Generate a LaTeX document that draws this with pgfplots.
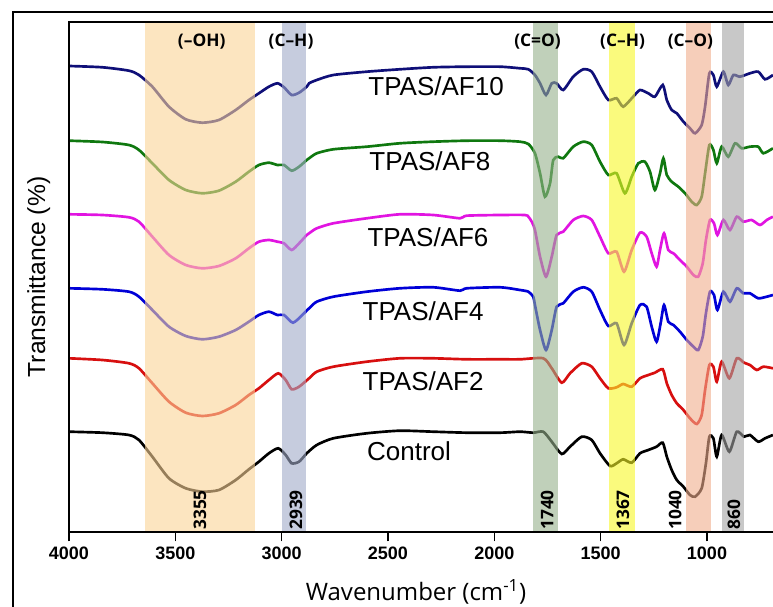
\documentclass[border=0pt]{standalone}
\usepackage{fontspec}
\setmainfont{Liberation Sans}
\newfontfamily\osans{Open Sans}
\usepackage{pgfplots}
\pgfplotsset{compat=1.18}
\definecolor{cNavy}{RGB}{15,15,120}
\definecolor{cGreen}{RGB}{15,120,15}
\definecolor{cMag}{RGB}{225,20,225}
\definecolor{cBlue}{RGB}{0,0,215}
\definecolor{cRed}{RGB}{215,15,15}
\definecolor{bOH}{RGB}{250,211,150}
\definecolor{bCH}{RGB}{160,170,200}
\definecolor{bCO}{RGB}{150,177,140}
\definecolor{bCHb}{RGB}{247,247,38}
\definecolor{bCOb}{RGB}{240,173,140}
\definecolor{bGr}{RGB}{163,163,163}
\begin{document}
\begin{tikzpicture}
\path[use as bounding box] (0,0) rectangle (579.75pt,454.5pt);
\draw[line width=1.5pt] (9.75pt,-20pt) rectangle (620pt,445.5pt);
\begin{axis}[
  at={(51.75pt,55.5pt)}, anchor=south west, scale only axis,
  width=533.25pt, height=382.5pt,
  x dir=reverse, xmin=656.7, xmax=4000, ymin=0, ymax=510,
  xtick={1000,1500,2000,2500,3000,3500,4000}, ytick=\empty,
  xticklabels={1000,1500,2000,2500,3000,3500,4000},
  xtick pos=left, tick align=outside, major tick length=7pt,
  xticklabel style={font=\fontsize{13.5}{15}\selectfont\bfseries, yshift=-1pt},
  axis line style={line width=1pt},
  every tick/.style={black,line width=1pt},
  axis on top, clip=true,
  every axis plot/.append style={line width=2pt, smooth, tension=0.4},
]
\addplot[cNavy] coordinates {(4000,466) (3843,464.7) (3718,461.3) (3671,457) (3608,445.3) (3530,425.3) (3451,412.7) (3373,409.3) (3295,412) (3216,422) (3154,432) (3107,438.7) (3060,445.3) (3020,448.7) (2989,444.7) (2953,437) (2918,439.3) (2882,445.3) (2871,448.7) (2835,452) (2757,457) (2600,460.3) (2444,462.7) (2287,464.7) (2130,465.3) (1973,465.3) (1879,463.7) (1840,462.7) (1809,457) (1785,448.7) (1757,437) (1730,448.7) (1707,448.7) (1676,442) (1629,455.3) (1582,462.7) (1542,460.3) (1503,445.3) (1464,432) (1425,433.7) (1394,425.3) (1347,435.3) (1315,442) (1276,438.7) (1245,435.3) (1208,447) (1189,432) (1166,422) (1142,418.7) (1111,410.3) (1080,403.7) (1056,398.7) (1025,407) (1009,425.3) (989,458.7) (970,457) (954,445.3) (923,460.3) (900,447) (876,457) (845,455.3) (798,458.7) (759,460.3) (727,452.7) (690,457)};
\addplot[cGreen] coordinates {(4000,391.3) (3843,390) (3718,387) (3671,382) (3608,368.7) (3530,352) (3451,342) (3373,338.7) (3295,341.3) (3216,350.3) (3154,360.3) (3107,367) (3060,369.3) (3020,367) (2989,367) (2953,361.3) (2918,365.3) (2882,372) (2871,373.7) (2835,378.7) (2757,382.7) (2600,385.3) (2444,388.7) (2287,390.3) (2130,391.3) (1973,391.3) (1879,390.3) (1840,388) (1809,378.7) (1785,358.7) (1762,335.3) (1738,348.7) (1723,372) (1699,375.3) (1676,373.7) (1629,385.3) (1582,390.3) (1542,387) (1503,370.3) (1464,357) (1425,358.7) (1386,338.7) (1354,355.3) (1323,368.7) (1292,370.3) (1268,360.3) (1245,342) (1221,358.7) (1205,373.7) (1189,357) (1166,350.3) (1135,345.3) (1103,338.7) (1072,330.3) (1048,327) (1025,335.3) (1009,358.7) (989,387) (970,382) (954,368.7) (931,385.3) (900,375.3) (868,388.7) (837,383.7) (798,385.3) (759,385.3) (735,378.7) (690,383.7)};
\addplot[cMag] coordinates {(4000,317.7) (3843,317) (3718,314.7) (3671,310.3) (3608,295.3) (3530,277) (3451,267) (3373,263.7) (3295,266) (3216,273.7) (3154,283.7) (3107,290.3) (3060,292) (3020,290.3) (2989,288.7) (2953,282) (2918,288.7) (2882,297) (2871,298.7) (2835,303.7) (2757,308.7) (2600,313.7) (2444,317.7) (2287,317) (2161,313.7) (2130,316.3) (1973,317) (1856,317) (1840,315.3) (1824,310.3) (1809,302) (1785,275.3) (1757,255.3) (1730,275.3) (1707,297) (1676,300.3) (1629,312) (1582,316) (1542,312) (1503,295.3) (1464,278.7) (1425,280.3) (1390,260.3) (1354,282) (1315,299.3) (1284,295.3) (1260,278.7) (1237,265.3) (1221,282) (1202,298.7) (1182,282) (1158,278.7) (1127,272) (1095,265.3) (1064,257) (1041,255.3) (1020,268.7) (1005,292) (986,312) (967,308.7) (951,297) (923,312) (892,302) (860,315.3) (829,310.3) (790,312) (751,307) (719,312) (690,315.3)};
\addplot[cBlue] coordinates {(4000,243.7) (3843,242.7) (3718,240.3) (3671,235.3) (3608,222) (3530,205.3) (3451,196) (3373,192.7) (3295,195.3) (3216,202) (3154,210.3) (3107,217) (3060,220.3) (3020,217) (2989,217) (2947,209.3) (2903,217) (2871,223.7) (2835,230.3) (2757,235.3) (2600,240.3) (2444,243.7) (2287,244.7) (2161,241.3) (2130,243.7) (1973,244.7) (1879,242) (1840,240.3) (1817,235.3) (1809,227) (1785,202) (1757,182) (1730,202) (1707,225.3) (1676,228.7) (1629,240.3) (1582,244.7) (1542,240.3) (1503,222) (1464,206) (1425,208.7) (1390,187) (1354,208.7) (1315,227) (1284,225.3) (1260,205.3) (1237,190.3) (1218,208.7) (1202,227) (1182,210.3) (1158,207) (1127,200.3) (1095,192) (1064,185.3) (1041,182) (1020,195.3) (1005,218.7) (986,240.3) (967,237) (951,222) (923,240.3) (892,230.3) (860,243.7) (829,238.7) (798,238.7) (759,233.7) (719,235.3) (690,237)};
\addplot[cRed] coordinates {(4000,173.7) (3843,172) (3718,168.7) (3671,163.7) (3608,148.7) (3530,130.3) (3451,119.3) (3373,116) (3295,118.7) (3216,127) (3154,137) (3107,143.7) (3060,152) (3016,158.7) (2981,152) (2953,142.7) (2918,145.3) (2871,153.7) (2835,160.3) (2757,165.3) (2600,170.3) (2444,173.7) (2287,173.7) (2130,172.7) (1973,172.7) (1879,172.7) (1770,173.7) (1730,163.7) (1683,149.3) (1644,158.7) (1589,168.7) (1542,165.3) (1503,153.7) (1464,143.7) (1425,144.7) (1394,148) (1354,145.3) (1315,153.7) (1276,157) (1245,159.3) (1208,162.7) (1189,148.7) (1166,137) (1142,128.7) (1111,122) (1080,113.7) (1048,108) (1025,117) (1009,142) (989,167) (970,165.3) (954,150.3) (931,170.3) (895,153.7) (860,173.7) (826,169.3) (798,167) (766,162) (735,165.3) (690,163.7)};
\addplot[black] coordinates {(4000,100.3) (3843,99.3) (3718,97) (3671,92) (3608,75.3) (3530,53.7) (3451,43.7) (3373,40.3) (3295,42) (3216,52) (3154,62.7) (3107,70.3) (3060,78.7) (3016,83.7) (2981,77) (2953,68.7) (2918,70.3) (2882,78.7) (2835,87) (2757,93.7) (2600,98.7) (2444,101.3) (2287,100.3) (2130,99.3) (1973,99.3) (1879,100.3) (1817,99.3) (1770,100.3) (1730,90.3) (1683,78) (1644,85.3) (1589,95.3) (1542,92) (1503,78.7) (1456,66) (1425,68.7) (1394,72.7) (1354,69.3) (1315,78.7) (1276,82) (1237,85.3) (1208,89.3) (1189,75.3) (1166,62) (1142,52) (1111,45.3) (1080,37) (1056,35.3) (1025,43.7) (1005,68.7) (989,95.3) (970,93.7) (954,75.3) (931,97) (895,80.3) (860,100.3) (826,95.3) (798,97) (759,90.3) (727,93.7) (690,97)};
% absorption bands
\fill[bOH, fill opacity=0.6] (axis cs:3643,0) rectangle (axis cs:3125,510);
\fill[bCH, fill opacity=0.6] (axis cs:2998,0) rectangle (axis cs:2886,510);
\fill[bCO, fill opacity=0.6] (axis cs:1820,0) rectangle (axis cs:1702,510);
\fill[bCHb, fill opacity=0.6] (axis cs:1461,0) rectangle (axis cs:1339,510);
\fill[bCOb, fill opacity=0.6] (axis cs:1100,0) rectangle (axis cs:983,510);
\fill[bGr, fill opacity=0.6] (axis cs:931,0) rectangle (axis cs:826,510);
% band labels
\begin{scope}[every node/.style={font=\osans\bfseries\fontsize{13}{14}\selectfont, inner sep=0pt}]
\node at (axis cs:3376,490) {(–OH)};
\node at (axis cs:2956,490) {(C–H)};
\node at (axis cs:1797,490) {(C=O)};
\node at (axis cs:1397,490) {(C–H)};
\node at (axis cs:1078,490) {(C–O)};
\node[rotate=90, anchor=west] at (axis cs:3384,2) {3355};
\node[rotate=90, anchor=west] at (axis cs:2933,2) {2939};
\node[rotate=90, anchor=west] at (axis cs:1752,2) {1740};
\node[rotate=90, anchor=west] at (axis cs:1395,2) {1367};
\node[rotate=90, anchor=west] at (axis cs:1150,2) {1040};
\node[rotate=90, anchor=west] at (axis cs:873,2) {860};
\end{scope}
% curve labels
\begin{scope}[every node/.style={font=\fontsize{19.5}{21}\selectfont, inner sep=0pt}]
\node at (axis cs:2274,445.5) {TPAS/AF10};
\node at (axis cs:2303,371) {TPAS/AF8};
\node at (axis cs:2312,295) {TPAS/AF6};
\node at (axis cs:2335,221) {TPAS/AF4};
\node at (axis cs:2335,151) {TPAS/AF2};
\node at (axis cs:2401,81) {Control};
\end{scope}
\end{axis}
\node[rotate=90, font=\fontsize{18.5}{20}\selectfont] at (29pt,246.75pt) {Transmittance (\%)};
\node[font=\osans\fontsize{18}{20}\selectfont] at (312pt,10.5pt) {Wavenumber (cm\textsuperscript{-1})};
\end{tikzpicture}
\end{document}
